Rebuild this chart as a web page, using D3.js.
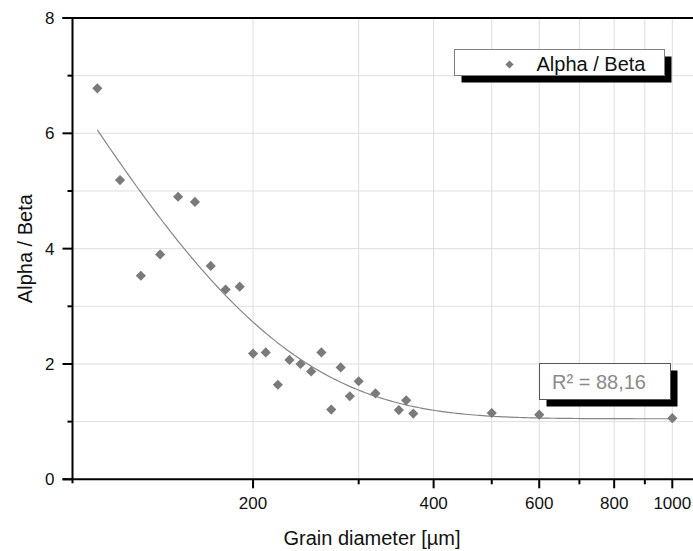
<!DOCTYPE html>
<html>
<head>
<meta charset="utf-8">
<script src="https://cdn.jsdelivr.net/npm/d3@7"></script>
<style>
  body { margin: 0; background: #fff; }
  svg { display: block; font-family: "Liberation Sans", Arial, sans-serif; }
</style>
</head>
<body>
<div id="chart"></div>
<script>
// measured points: grain size vs alpha/beta ratio
const grain = [110, 120, 130, 140, 150, 160, 170, 180, 190, 200, 210, 220, 230, 240,
               250, 260, 270, 280, 290, 300, 320, 350, 360, 370, 500, 600, 1000];
const ratio = [6.78, 5.19, 3.53, 3.90, 4.90, 4.81, 3.70, 3.29, 3.34, 2.18, 2.20, 1.64, 2.07, 2.00,
               1.87, 2.20, 1.21, 1.94, 1.44, 1.70, 1.49, 1.20, 1.37, 1.14, 1.15, 1.12, 1.06];

// exponential decay fit y = y0 + A*exp(-x/t)
const fitY0 = 1.05, fitA = 19.1, fitT = 82.2;
const fitRange = [110, 1000];
const r2Label = "R² = 88,16";

const xTicks = [200, 300, 400, 500, 600, 700, 800, 900, 1000];
const xLabels = [200, 400, 600, 800, 1000];
const yTicks = [0, 1, 2, 3, 4, 5, 6, 7, 8];
const yLabels = [0, 2, 4, 6, 8];

const W = 693, H = 551;
const plotL = 72.5, plotT = 18, plotB = 479.3;

const svg = d3.select("#chart").append("svg").attr("width", W).attr("height", H);

const x = d3.scaleLog().domain([100, 1000]).range([plotL, 672.3]);
const y = d3.scaleLinear().domain([0, 8]).range([plotB, plotT]);

// grid
svg.append("g").selectAll("line").data(xTicks).join("line")
  .attr("x1", d => x(d)).attr("x2", d => x(d))
  .attr("y1", plotT).attr("y2", plotB)
  .attr("stroke", "#dedede").attr("stroke-width", 1);
svg.append("g").selectAll("line").data(yTicks.filter(d => d > 0 && d < 8)).join("line")
  .attr("x1", plotL).attr("x2", W)
  .attr("y1", d => y(d)).attr("y2", d => y(d))
  .attr("stroke", "#dedede").attr("stroke-width", 1);

// fit curve
const fitPts = d3.range(0, 201).map(i => {
  const g = fitRange[0] * Math.pow(fitRange[1] / fitRange[0], i / 200);
  return [g, fitY0 + fitA * Math.exp(-g / fitT)];
});
svg.append("path").datum(fitPts)
  .attr("d", d3.line().x(d => x(d[0])).y(d => y(d[1])))
  .attr("fill", "none").attr("stroke", "#858585").attr("stroke-width", 1.2);

// points
const diamond = d3.symbol(d3.symbolSquare, 52);
svg.append("g").selectAll("path").data(grain).join("path")
  .attr("d", diamond)
  .attr("transform", (d, i) => `translate(${x(d)},${y(ratio[i])}) rotate(45)`)
  .attr("fill", "#7a7a7a");

// axes
const xAxis = svg.append("g").attr("transform", `translate(0,${plotB})`);
xAxis.append("line").attr("x1", plotL - 10).attr("x2", W + 5)
  .attr("stroke", "#000").attr("stroke-width", 2);
xAxis.selectAll("line.tk").data(xTicks).join("line").attr("class", "tk")
  .attr("x1", d => x(d)).attr("x2", d => x(d))
  .attr("y1", 0).attr("y2", d => xLabels.includes(d) ? 9 : 5)
  .attr("stroke", "#000").attr("stroke-width", 2);
xAxis.selectAll("text").data(xLabels).join("text")
  .attr("x", d => x(d)).attr("y", 30)
  .attr("text-anchor", "middle").attr("font-size", 17).attr("fill", "#111")
  .text(d => d);

const yAxis = svg.append("g");
yAxis.append("line").attr("x1", plotL).attr("x2", plotL)
  .attr("y1", plotT).attr("y2", plotB + 4)
  .attr("stroke", "#000").attr("stroke-width", 2);
svg.append("line").attr("x1", plotL - 10).attr("x2", W + 5)
  .attr("y1", plotT).attr("y2", plotT)
  .attr("stroke", "#000").attr("stroke-width", 2);
yAxis.selectAll("line.tk").data(yTicks).join("line").attr("class", "tk")
  .attr("x1", d => yLabels.includes(d) ? plotL - 10 : plotL - 5).attr("x2", plotL)
  .attr("y1", d => y(d)).attr("y2", d => y(d))
  .attr("stroke", "#000").attr("stroke-width", 2);
yAxis.selectAll("text").data(yLabels).join("text")
  .attr("x", plotL - 18).attr("y", d => y(d) + 6)
  .attr("text-anchor", "end").attr("font-size", 17).attr("fill", "#111")
  .text(d => d);

// axis titles
svg.append("text").attr("x", 372).attr("y", 545)
  .attr("text-anchor", "middle").attr("font-size", 20).attr("fill", "#111")
  .text("Grain diameter [µm]");
svg.append("text").attr("transform", `translate(32,${(plotT + plotB) / 2}) rotate(-90)`)
  .attr("text-anchor", "middle").attr("font-size", 20).attr("fill", "#111")
  .text("Alpha / Beta");

// legend
const leg = svg.append("g").attr("transform", "translate(454.5,49.5)");
leg.append("rect").attr("x", 7).attr("y", 7).attr("width", 210).attr("height", 26).attr("fill", "#000");
leg.append("rect").attr("width", 210).attr("height", 26)
  .attr("fill", "#fff").attr("stroke", "#808080").attr("stroke-width", 1);
leg.append("path").attr("d", d3.symbol(d3.symbolSquare, 34))
  .attr("transform", "translate(55,15) rotate(45)").attr("fill", "#7a7a7a");
leg.append("text").attr("x", 82).attr("y", 21.5)
  .attr("font-size", 20).attr("fill", "#111").text("Alpha / Beta");

// R² box
const rb = svg.append("g").attr("transform", "translate(539.5,363.5)");
rb.append("rect").attr("x", 7).attr("y", 7).attr("width", 131).attr("height", 36).attr("fill", "#000");
rb.append("rect").attr("width", 131).attr("height", 36)
  .attr("fill", "#fff").attr("stroke", "#555").attr("stroke-width", 1);
rb.append("text").attr("x", 12.5).attr("y", 25.5)
  .attr("font-size", 20).attr("fill", "#8a8a8a").text(r2Label);
</script>
</body>
</html>
